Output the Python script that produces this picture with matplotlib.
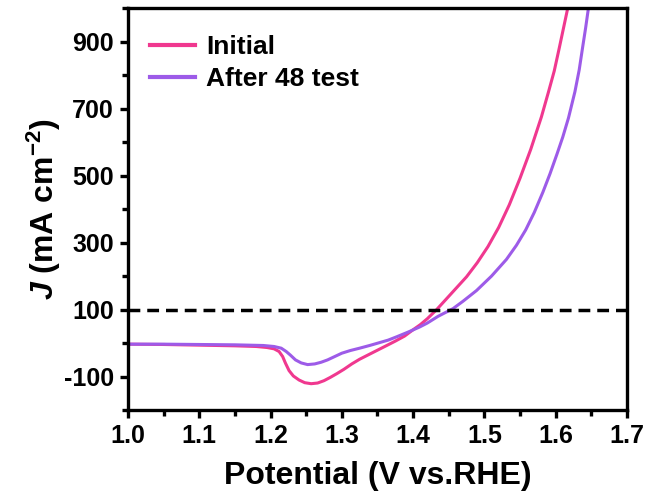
import matplotlib.pyplot as plt
from matplotlib.ticker import MultipleLocator

# LSV curves
x_initial = [1.00, 1.05, 1.10, 1.15, 1.18, 1.195, 1.205, 1.212, 1.217, 1.221,
             1.226, 1.232, 1.240, 1.248, 1.257, 1.266, 1.275, 1.284, 1.293, 1.303,
             1.314, 1.325, 1.337, 1.350, 1.363, 1.375, 1.388, 1.400, 1.410, 1.420,
             1.433, 1.445, 1.460, 1.475, 1.490, 1.505, 1.520, 1.535, 1.550, 1.565,
             1.580, 1.590, 1.598, 1.605, 1.611, 1.617]
y_initial = [-3, -4, -6, -8, -10, -13, -17, -25, -40, -60,
             -82, -98, -110, -118, -121, -119, -112, -102, -91, -78,
             -62, -48, -35, -21, -7, 6, 21, 40, 55, 73,
             100, 128, 163, 198, 240, 288, 345, 413, 492, 578,
             675, 750, 812, 880, 940, 1000]

x_after = [1.00, 1.05, 1.10, 1.15, 1.19, 1.205, 1.215, 1.222, 1.228, 1.235,
           1.243, 1.252, 1.262, 1.271, 1.280, 1.290, 1.300, 1.312, 1.325, 1.339,
           1.352, 1.365, 1.377, 1.393, 1.409, 1.420, 1.435, 1.456, 1.470, 1.489,
           1.510, 1.531, 1.545, 1.558, 1.570, 1.582, 1.592, 1.602, 1.610, 1.618,
           1.627, 1.633, 1.638, 1.642, 1.646]
y_after = [-3, -3, -4, -5, -7, -10, -15, -25, -36, -50,
           -59, -64, -62, -57, -50, -40, -30, -22, -15, -7,
           1, 9, 19, 33, 48, 60, 80, 103, 125, 157,
           200, 250, 292, 338, 390, 450, 505, 565, 615, 672,
           750, 815, 885, 940, 1000]

ref_current = 100
y_ticks = [-100, 100, 300, 500, 700, 900]

plt.rcParams['font.family'] = ['Liberation Sans', 'DejaVu Sans']
plt.rcParams['font.weight'] = 'bold'
plt.rcParams['axes.unicode_minus'] = False
plt.rcParams['mathtext.fontset'] = 'custom'
plt.rcParams['mathtext.it'] = 'Liberation Sans:italic:bold'
plt.rcParams['mathtext.rm'] = 'Liberation Sans:bold'
plt.rcParams['mathtext.bf'] = 'Liberation Sans:bold'

fig = plt.figure(figsize=(6.48, 4.99), dpi=100)
ax = fig.add_axes([0.1975, 0.178, 0.77, 0.806])

ax.plot(x_initial, y_initial, color='#F0388F', lw=2.2, label='Initial')
ax.plot(x_after, y_after, color='#9D5BE8', lw=2.2, label='After 48 test')
ax.axhline(ref_current, color='black', lw=2.5, ls=(0, (3.4, 2.0)))

ax.set_xlim(1.0, 1.7)
ax.set_ylim(-200, 1000)
ax.set_yticks(y_ticks)
ax.xaxis.set_major_locator(MultipleLocator(0.1))
ax.xaxis.set_minor_locator(MultipleLocator(0.05))
ax.yaxis.set_minor_locator(MultipleLocator(100))

for s in ax.spines.values():
    s.set_linewidth(2.4)
ax.tick_params(which='major', direction='out', length=6, width=2.4, labelsize=18, pad=4)
ax.tick_params(which='minor', direction='out', length=4, width=2.4)
for lab in ax.get_xticklabels() + ax.get_yticklabels():
    lab.set_fontweight('bold')

ax.set_xlabel('Potential (V vs.RHE)', fontsize=23, fontweight='bold', labelpad=9)
ax.set_ylabel(r'$J$ (mA cm$^{-2}$)', fontsize=23, fontweight='bold', labelpad=1)

leg = ax.legend(loc='upper left', frameon=False, fontsize=19, handlelength=1.7,
                handletextpad=0.4, borderpad=0, borderaxespad=0, labelspacing=0.3,
                bbox_to_anchor=(0.045, 0.933))
for t in leg.get_texts():
    t.set_fontweight('bold')
for h in leg.get_lines():
    h.set_linewidth(3)

fig.savefig('out.png', dpi=100)
